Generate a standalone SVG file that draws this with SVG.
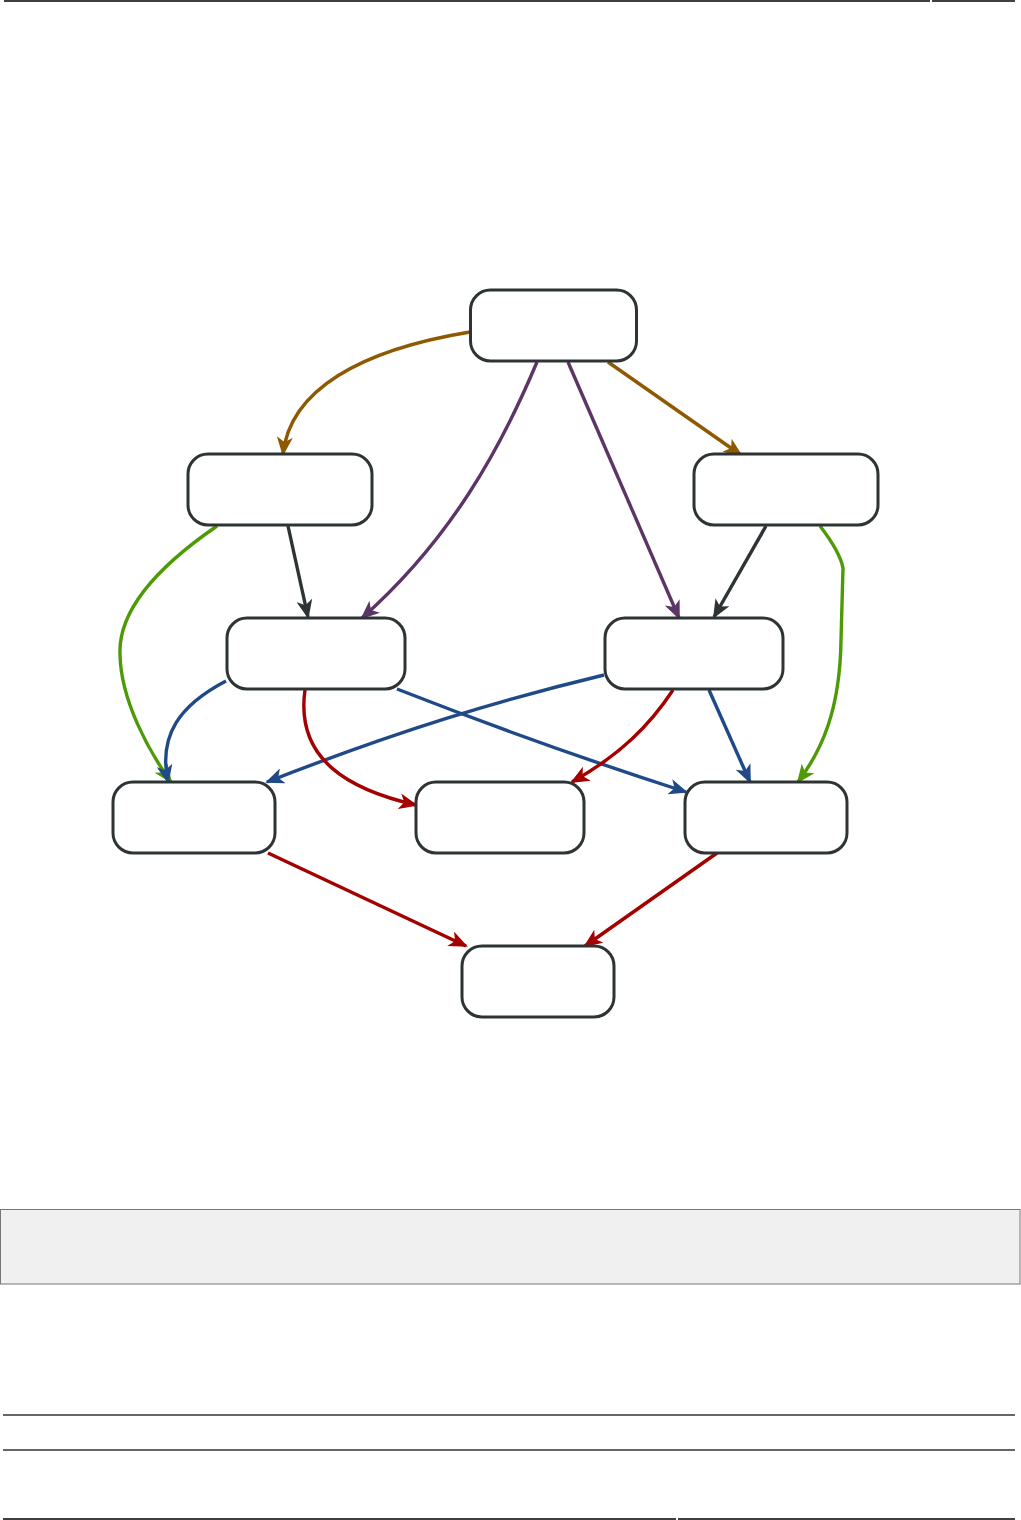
<svg xmlns="http://www.w3.org/2000/svg" width="1021" height="1520" viewBox="0 0 1021 1520">
<style>
.node rect{fill:#fff;stroke:#2e3436;stroke-width:3}
.e{fill:none;stroke-width:3.4}
.brown{stroke:#8f5902}.purple{stroke:#5c3566}.dark{stroke:#2e3436}.green{stroke:#4e9a06}.blue{stroke:#204a87}.red{stroke:#a40000}
.rule{stroke:#666;stroke-width:2}
</style>
<defs>
<marker id="m-brown" markerUnits="userSpaceOnUse" markerWidth="20" markerHeight="16" refX="17" refY="8" orient="auto"><path d="M0,0 L19,8 L0,16 L5,8 z" fill="#8f5902"/></marker>
<marker id="m-purple" markerUnits="userSpaceOnUse" markerWidth="20" markerHeight="16" refX="17" refY="8" orient="auto"><path d="M0,0 L19,8 L0,16 L5,8 z" fill="#5c3566"/></marker>
<marker id="m-dark" markerUnits="userSpaceOnUse" markerWidth="20" markerHeight="16" refX="17" refY="8" orient="auto"><path d="M0,0 L19,8 L0,16 L5,8 z" fill="#2e3436"/></marker>
<marker id="m-green" markerUnits="userSpaceOnUse" markerWidth="20" markerHeight="16" refX="17" refY="8" orient="auto"><path d="M0,0 L19,8 L0,16 L5,8 z" fill="#4e9a06"/></marker>
<marker id="m-blue" markerUnits="userSpaceOnUse" markerWidth="20" markerHeight="16" refX="17" refY="8" orient="auto"><path d="M0,0 L19,8 L0,16 L5,8 z" fill="#204a87"/></marker>
<marker id="m-red" markerUnits="userSpaceOnUse" markerWidth="20" markerHeight="16" refX="17" refY="8" orient="auto"><path d="M0,0 L19,8 L0,16 L5,8 z" fill="#a40000"/></marker>
</defs>
<rect width="1021" height="1520" fill="#fff"/>
<g id="page">
<line x1="4" y1="1" x2="930" y2="1" stroke="#000" stroke-width="1.6"/>
<line x1="932" y1="1" x2="1015" y2="1" stroke="#000" stroke-width="1.6"/>
<rect x="0.5" y="1209.5" width="1019.5" height="74.5" fill="#f0f0f0" stroke="#777" stroke-width="1"/>
<line class="rule" x1="3" y1="1415" x2="1015" y2="1415"/>
<line class="rule" x1="3" y1="1450" x2="1015" y2="1450"/>
<line x1="3" y1="1519" x2="676" y2="1519" stroke="#000" stroke-width="1.6"/>
<line x1="678" y1="1519" x2="1015" y2="1519" stroke="#000" stroke-width="1.6"/>
</g>
<g id="connectors">
<path class="e brown" d="M470,332 C360,350 290,390 283,454" marker-end="url(#m-brown)"/>
<path class="e brown" d="M608,362 L741,455" marker-end="url(#m-brown)"/>
<path class="e purple" d="M537,362 C500,450 450,540 362,618" marker-end="url(#m-purple)"/>
<path class="e purple" d="M568,362 L679,618" marker-end="url(#m-purple)"/>
<path class="e dark" d="M288,526 L308,617" marker-end="url(#m-dark)"/>
<path class="e dark" d="M766,526 L714,617" marker-end="url(#m-dark)"/>
<path class="e green" d="M217,526 C150,572 118,615 120,655 C121,700 148,750 171,782" marker-end="url(#m-green)"/>
<path class="e green" d="M820,526 Q840,552 843,568 L841,640 C840,710 822,750 798,782" marker-end="url(#m-green)"/>
<path class="e blue" d="M226,681 C180,705 158,735 168,782" marker-end="url(#m-blue)"/>
<path class="e blue" d="M604,675 C500,700 400,730 267,782" marker-end="url(#m-blue)"/>
<path class="e blue" d="M397,689 Q540,745 686,792" marker-end="url(#m-blue)"/>
<path class="e blue" d="M709,690 L750,782" marker-end="url(#m-blue)"/>
<path class="e red" d="M305,690 C295,760 350,790 416,805" marker-end="url(#m-red)"/>
<path class="e red" d="M673,690 C650,725 620,755 572,782" marker-end="url(#m-red)"/>
<path class="e red" d="M268,853 L466,946" marker-end="url(#m-red)"/>
<path class="e red" d="M717,853 L585,946" marker-end="url(#m-red)"/>
</g>
<g id="n-top" class="node"><rect x="470.5" y="290" width="166" height="71" rx="20"/></g>
<g id="n-left2" class="node"><rect x="188" y="454" width="184" height="71" rx="20"/></g>
<g id="n-right2" class="node"><rect x="694" y="454" width="184" height="71" rx="20"/></g>
<g id="n-left3" class="node"><rect x="227" y="618" width="178" height="71" rx="20"/></g>
<g id="n-right3" class="node"><rect x="605" y="618" width="178" height="71" rx="20"/></g>
<g id="n-left4" class="node"><rect x="113" y="782" width="162" height="71" rx="20"/></g>
<g id="n-mid4" class="node"><rect x="416" y="782" width="168" height="71" rx="20"/></g>
<g id="n-right4" class="node"><rect x="685" y="782" width="162" height="71" rx="20"/></g>
<g id="n-bottom" class="node"><rect x="462" y="946" width="152" height="71" rx="20"/></g>
</svg>
